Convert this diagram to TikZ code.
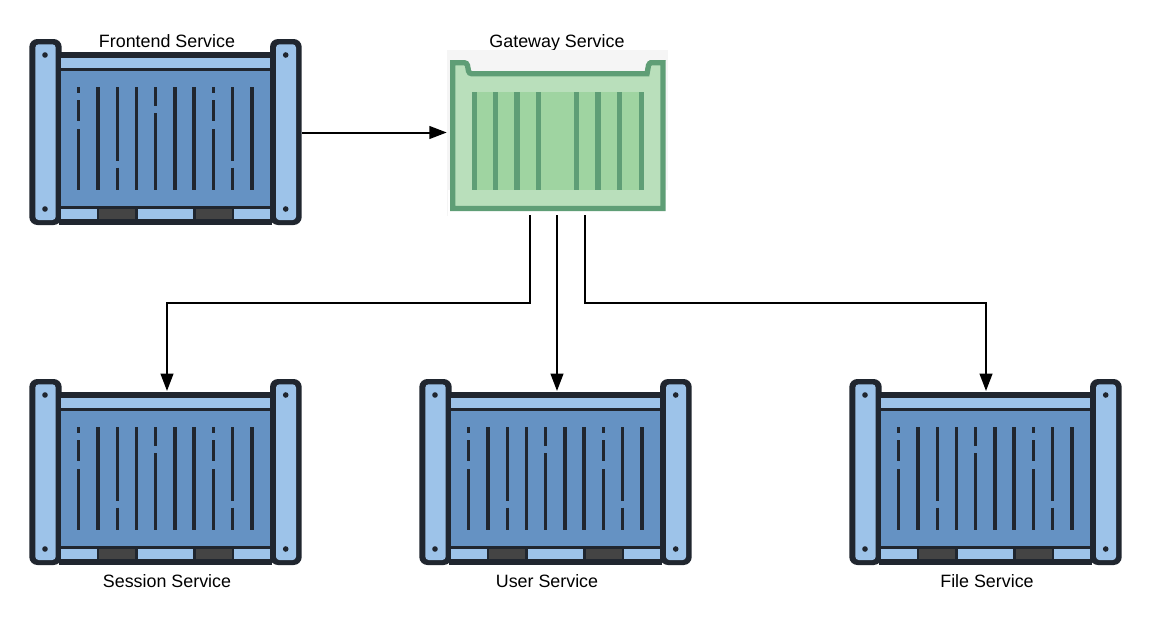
\documentclass[tikz,border=0pt]{standalone}
\usepackage{fontspec}
\setmainfont{Liberation Sans}
\usetikzlibrary{arrows.meta}
\definecolor{cdark}{HTML}{20262F}
\definecolor{clight}{HTML}{9DC3E9}
\definecolor{cmid}{HTML}{6592C3}
\definecolor{cgray}{HTML}{444444}
\definecolor{gstroke}{HTML}{5F9E76}
\definecolor{gpale}{HTML}{B9DFBB}
\definecolor{gmid}{HTML}{9FD4A1}
\definecolor{gback}{HTML}{F5F5F5}
\tikzset{
  title/.style={font=\fontsize{13.4}{15}\selectfont,text=black,inner sep=0pt,anchor=base},
  anchorbox/.style={rectangle,inner sep=0pt,draw=none,fill=none},
  conn/.style={draw=black,line width=1.5pt,-{Triangle[length=13pt,width=9.5pt]}},
  vline/.style={draw=cdark,line width=2.3pt},
  gstripe/.style={draw=gstroke,line width=4pt},
}
\newcommand{\bluecontainer}[4]{%
  \node[anchorbox,minimum width=204.75pt,minimum height=139.5pt] (#1) at (#2+136.5,#3+93.5) {};
  \coordinate (#1in) at (#2+#4,#3+12);
  \begin{scope}[shift={(#2,#3)}]
    \fill[cdark] (30,13.3) rectangle (243,185.5);
    \foreach \a/\b in {0.3/32.7,241/272.7}{\fill[cdark,rounded corners=6pt] (\a,0) rectangle (\b,186);}
    \foreach \a/\b in {6.3/26.7,247/267}{\fill[clight,rounded corners=2.5pt] (\a,5.3) rectangle (\b,181);}
    \fill[clight] (32.3,19.3) rectangle (241,28.7);
    \fill[cmid] (32.3,32) rectangle (241,167);
    \foreach \a/\b in {32.3/67.7,109.3/164,205.3/241}{\fill[clight] (\a,170) rectangle (\b,180);}
    \foreach \a/\b in {70.3/106.3,167/203}{\fill[cgray] (\a,170) rectangle (\b,180);}
    \foreach \a/\b in {16/16,16/170,256.7/16,256.7/170}{\fill[cdark] (\a,\b) circle[radius=2.1pt];}
    \foreach \x in {49.7,184.3}{%
      \draw[vline] (\x,48.3) -- (\x,54.3) (\x,61) -- (\x,82) (\x,90.3) -- (\x,150.7);}
    \foreach \x in {88.3,203.7}{%
      \draw[vline] (\x,48.3) -- (\x,121.7) (\x,128.7) -- (\x,150.7);}
    \draw[vline] (126.7,48.3) -- (126.7,67.3) (126.7,74.3) -- (126.7,150.7);
    \foreach \x in {69,107.7,146,165,223}{\draw[vline] (\x,48.3) -- (\x,150.7);}
  \end{scope}}
\begin{document}
\begin{tikzpicture}[x=0.75pt,y=-0.75pt]
\useasboundingbox (0,0) rectangle (1163,621);
\fill[white] (0,0) rectangle (1163,621);
% titles
\node[title] (tfront) at (167,47) {Frontend Service};
\node[title] (tgate) at (557,47.3) {Gateway Service};
\node[title] (tsess) at (167,587) {Session Service};
\node[title] (tuser) at (547,587) {User Service};
\node[title] (tfile) at (987,587) {File Service};
% blue containers
\bluecontainer{frontend}{29}{39}{138}
\bluecontainer{session}{29}{379}{138}
\bluecontainer{user}{419}{379}{138}
\bluecontainer{file}{849}{379}{137}
% gateway
\node[anchorbox,fill=gback,minimum width=165.75pt,minimum height=124.5pt] (gateway) at (557.5,132.5) {};
\fill[white] (447.5,190) rectangle (667.5,215.5);
\draw[gstroke,fill=gpale,line width=4pt,line join=miter]
  (452.7,208.5) -- (452.7,62.7) -- (464,62.7) [rounded corners=2pt] -- (467,62.7) -- (469,73.7) [sharp corners] -- (647,73.7) [rounded corners=2pt] -- (649,62.7) -- (652,62.7) [sharp corners] -- (663,62.7) -- (663,208.5) -- cycle;
\fill[gmid] (471.7,92.3) rectangle (644,189.7);
\foreach \x in {474.2,495.7,517,538.7,576.3,598,619.7,641.5}{\draw[gstripe] (\x,92.3) -- (\x,189.7);}
% connector ends
\coordinate (gateL) at (530,215);
\coordinate (gateM) at (557,215);
\coordinate (gateR) at (585,215);
\coordinate (elbowL) at (530,303);
\coordinate (elbowR) at (585,303);
% connectors
\draw[conn] (frontend.east) -- (gateway.west);
\draw[conn] (gateL) -- (elbowL) -| (sessionin);
\draw[conn] (gateM) -- (userin);
\draw[conn] (gateR) -- (elbowR) -| (filein);
\end{tikzpicture}
\end{document}
